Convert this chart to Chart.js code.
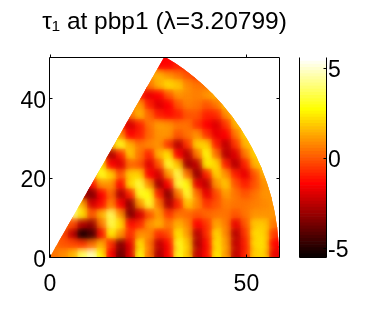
<!DOCTYPE html>
<html><head><meta charset="utf-8">
<script src="https://cdn.jsdelivr.net/npm/chart.js@4"></script>
<style>html,body{margin:0;padding:0;background:#fff}#w{position:relative;width:381px;height:309px;overflow:hidden}
canvas{position:absolute;top:0}</style></head><body><div id="w">
<div style="position:absolute;left:0;top:0;width:381px;height:309px"><canvas id="c"></canvas></div>
<div style="position:absolute;left:290px;top:0;width:91px;height:309px"><canvas id="b"></canvas></div></div>
<script>
const _=null;
const titleText='τ₁ at pbp1 (λ=3.20799)';
const xTicks=[0,50], yTicks=[0,20,40], barTicks=[-5,0,5];
const xs=[1.22,3.66,6.1,8.54,10.98,13.42,15.86,18.3,20.74,23.18,25.62,28.06,30.5,32.94,35.38,37.82,40.26,42.7,45.14,47.58,50.02,52.46,54.9,57.34];
const ys=[1.25,3.75,6.25,8.75,11.25,13.75,16.25,18.75,21.25,23.75,26.25,28.75,31.25,33.75,36.25,38.75,41.25,43.75,46.25,48.75];
const r01=[0.5,0.8,1.5,3.8,4.8,2.5,-1.5,-3.8,-2,2.8,0.5,-2.8,-1.5,3,1.8,-2.5,-1.2,2.6,1.2,-2.5,-1,2,2,-1.8];
const r02=[0.5,0,-0.3,-0.5,0.3,1.5,-0.8,-3.5,-1.8,2.4,0.5,-2.5,-1.2,3,1.8,-2.8,-1.2,2.4,1.2,-2.5,-1,2.2,2.2,-1.5];
const r03=[_,-0.3,-2.5,-5.2,-4.5,-1.2,2.5,1,-0.8,1,0.8,-0.8,-0.3,2.4,1.2,-2.6,-0.8,2.2,0.8,-2.6,-0.5,2.2,2,-0.5];
const r04=[_,0.5,-0.3,-2.6,-3.2,0.5,3.5,2.2,-1.2,-0.8,1,1.5,0.5,1.5,0.8,-1.5,-0.5,1.4,0.6,-1.8,0,1.8,1.8,0.5];
const r05=[_,_,4,2.4,0,1.5,3.8,1,-3.5,-2.2,0,1.2,-0.5,0.5,0.3,0,0.2,0.5,0.4,0,0.5,1,1,1];
const r06=[_,_,4,1.5,-2.2,-1.2,0.8,-1.5,-3.3,1,3.2,0.5,-2.8,-1,1.8,0.8,-0.5,0,0.6,0.4,0.5,0.6,0.8,1];
const r07=[_,_,_,-2.8,-3.6,-1.5,0.2,-2.8,-1,3,2.8,-1,-3.3,0.5,3.2,0.5,-1.8,-0.3,1.2,0.5,0,0.5,1,1];
const r08=[_,_,_,_,-1.2,1,1,-1.5,2.2,3.4,1,-3,-1.5,3.4,2.8,-1.8,-2.5,1,1.8,0,-1,0,1,1];
const r09=[_,_,_,_,1.5,3,2,0,2,2,-1.5,-2.2,1,3.6,0.5,-3.2,-1,2,1,-1,-1.8,0,1.5,_];
const r10=[_,_,_,_,_,2.4,-1.5,-2,0.3,0,-2,0,3.2,1.8,-3,-2.5,2.6,2.2,-1,-2.6,-1,1.5,2,_];
const r11=[_,_,_,_,_,0,-2.8,-1,1.8,0.5,-1,1.5,2.4,-1.5,-2.6,0.5,2.8,0.5,-2.6,-2,0.5,2,2,_];
const r12=[_,_,_,_,_,_,1.5,3,1.5,0.5,0.8,1,-0.5,-2.6,-0.5,2,2,-1,-2.4,-0.5,1.5,2,_,_];
const r13=[_,_,_,_,_,_,2,1,-1.5,-1,0.3,1,1,0,0.5,1,-0.5,-1.8,-1.5,0.5,2,2,_,_];
const r14=[_,_,_,_,_,_,_,-1,-2.2,-1,0.5,1.2,1,0.5,0.5,-0.5,-1.5,-2,-0.5,1.5,2,_,_,_];
const r15=[_,_,_,_,_,_,_,_,0.5,1.5,0.2,-1,-1.2,-1,0,0,-1,-0.8,0.8,2,_,_,_,_];
const r16=[_,_,_,_,_,_,_,_,1,1.2,-1,-2,-1.5,0,0.6,0.5,0,0.5,1.8,_,_,_,_,_];
const r17=[_,_,_,_,_,_,_,_,_,-1,-1.8,-1.5,0,1,0.8,0.6,1,1.5,_,_,_,_,_,_];
const r18=[_,_,_,_,_,_,_,_,_,0,0.5,1.5,2.2,1.8,0.8,0.5,0.5,_,_,_,_,_,_,_];
const r19=[_,_,_,_,_,_,_,_,_,_,1.2,1.5,1,0.5,0,-0.5,_,_,_,_,_,_,_,_];
const r20=[_,_,_,_,_,_,_,_,_,_,_,-1.5,-1.5,-1,-1,_,_,_,_,_,_,_,_,_];
const rows=[r01,r02,r03,r04,r05,r06,r07,r08,r09,r10,r11,r12,r13,r14,r15,r16,r17,r18,r19,r20];
const cMin=-5.5,cMax=5.55,levels=64;

function hot(v){
  const k=Math.min(levels-1,Math.max(0,Math.floor((v-cMin)/(cMax-cMin)*levels)));
  const t=(k+1)/levels;
  const r=Math.min(1,t/0.375),g=Math.min(1,Math.max(0,(t-0.375)/0.375)),b=Math.min(1,Math.max(0,(t-0.75)/0.25));
  return `rgb(${Math.round(r*255)},${Math.round(g*255)},${Math.round(b*255)})`;
}
const pts=[];
rows.forEach((row,j)=>row.forEach((v,i)=>{if(v!==null)pts.push({x:xs[i],y:ys[j],v});}));
const font={family:'"Liberation Sans",Arial,sans-serif',size:23};
const lowerLabels=(s,dy)=>{if(s._low)return;s._low=1;const o=s._computeLabelItems;
  s._computeLabelItems=function(a){const items=o.call(this,a);items.forEach(it=>{it.options=Object.assign({},it.options,{translation:[it.options.translation[0],it.options.translation[1]+dy]});});return items;};};
const tickMarks=(sides)=>({id:'box',afterDraw(ch){
  const a=ch.chartArea,c=ch.ctx;c.save();c.strokeStyle='#000';c.lineWidth=1;c.beginPath();
  const L=a.left-.5,R=a.right+.5,T=a.top-.5,B=a.bottom+.5;
  c.moveTo(L,T);c.lineTo(L,B);c.lineTo(R,B);c.lineTo(R,T);
  if(sides.x){c.lineTo(L,T);ch.scales.x.ticks.forEach((t,i)=>{const p=Math.round(ch.scales.x.getPixelForTick(i))+.5;c.moveTo(p,T);c.lineTo(p,T-3);c.moveTo(p,B);c.lineTo(p,B-3);});}
  const y=ch.scales.y;
  y.ticks.forEach((t,i)=>{const p=Math.round(y.getPixelForTick(i))+.5;
    if(sides.yl){c.moveTo(L,p);c.lineTo(L+3,p);}c.moveTo(R,p);c.lineTo(R-3,p);});
  c.stroke();c.restore();}});
const sector={id:'sector',
  afterLayout(ch){const m=(ch.chartArea.left+ch.chartArea.right)/2;ch.titleBlock.left=m-150;ch.titleBlock.right=m+150;},
  beforeDatasetDraw(ch,args){const {x,y}=ch.scales,c=ch.ctx;const R=58.3;
    c.save();
    const x0=x.getPixelForValue(0),y0=y.getPixelForValue(0),sx=x.getPixelForValue(R)-x0,sy=y0-y.getPixelForValue(R);
    c.beginPath();c.moveTo(x0,y0);c.lineTo(x0+sx,y0);
    c.ellipse(x0,y0,sx,sy,0,0,-Math.PI/3,true);c.closePath();c.clip();
    if(args.index===0)c.filter='blur(3.5px)';},
  afterDatasetDraw(ch){ch.ctx.restore();}};
const ds=()=>({data:pts,pointStyle:'rect',pointRadius:8.5,borderWidth:0,pointBorderWidth:0,
  backgroundColor:c=>c.raw?hot(c.raw.v):'#000',pointBackgroundColor:c=>c.raw?hot(c.raw.v):'#000'});
new Chart(document.getElementById('c'),{type:'scatter',
  data:{datasets:[ds(),ds()]},
  options:{responsive:true,maintainAspectRatio:false,animation:false,
    layout:{padding:{left:0,right:102,top:0,bottom:0}},
    plugins:{legend:{display:false},tooltip:{enabled:false},
      title:{display:true,text:titleText,color:'#000',font:{family:font.family,size:24.5,weight:'normal'},padding:{top:8,bottom:20.6}}},
    scales:{
      x:{type:'linear',min:0,max:58.3,afterBuildTicks:s=>{s.ticks=xTicks.map(value=>({value}));},
        afterFit:s=>{s.height=52;},border:{display:false},grid:{display:false,drawTicks:false},
        ticks:{autoSkip:false,maxRotation:0,font,color:'#000',padding:14}},
      y:{type:'linear',min:0,max:50.1,afterBuildTicks:s=>{s.ticks=yTicks.map(value=>({value}));},
        afterFit:s=>{s.width=50;lowerLabels(s,3.5);},border:{display:false},grid:{display:false,drawTicks:false},
        ticks:{autoSkip:false,font,color:'#000',padding:4}}}},
  plugins:[sector,tickMarks({x:true,yl:true})]});
const barData=[];
for(let k=0;k<levels;k++){const lo=cMin+(cMax-cMin)*k/levels,hi=cMin+(cMax-cMin)*(k+1)/levels;
  barData.push({data:[[lo,hi]],backgroundColor:hot((lo+hi)/2),borderWidth:0,barPercentage:1,categoryPercentage:1,grouped:false});}
new Chart(document.getElementById('b'),{type:'bar',
  data:{labels:['τ'],datasets:barData},
  options:{responsive:true,maintainAspectRatio:false,animation:false,
    layout:{padding:{left:10,top:58,right:0,bottom:0}},
    plugins:{legend:{display:false},tooltip:{enabled:false}},
    scales:{
      x:{display:true,afterFit:s=>{s.height=52;},ticks:{display:false},grid:{display:false,drawTicks:false},border:{display:false}},
      y:{type:'linear',position:'right',min:cMin,max:cMax,afterBuildTicks:s=>{s.ticks=barTicks.map(value=>({value}));},
        afterFit:s=>{s.width=55;lowerLabels(s,2.5);},border:{display:false},grid:{display:false,drawTicks:false},
        ticks:{autoSkip:false,font,color:'#000',padding:2}}}},
  plugins:[tickMarks({x:false,yl:false})]});
</script></body></html>
